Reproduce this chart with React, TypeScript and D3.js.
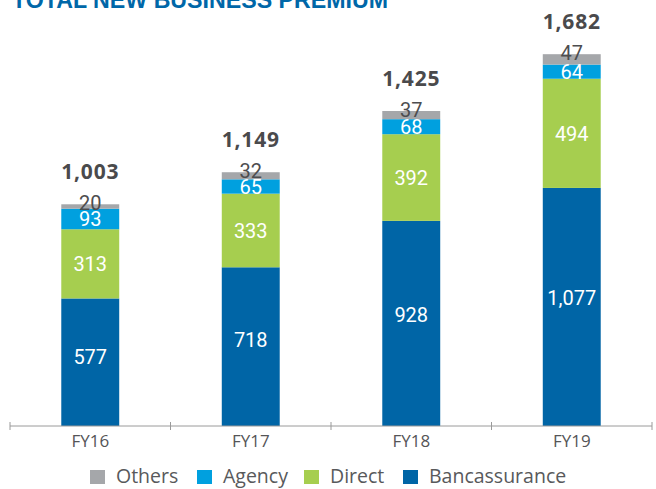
import React from "react";
import * as d3 from "d3";

const years = ["FY16", "FY17", "FY18", "FY19"];
const seriesNames = ["Bancassurance", "Direct", "Agency", "Others"];
const bancassurance = [577, 718, 928, 1077];
const direct = [313, 333, 392, 494];
const agency = [93, 65, 68, 64];
const others = [20, 32, 37, 47];
const totals = [1003, 1149, 1425, 1682];
const legendOrder = ["Others", "Agency", "Direct", "Bancassurance"];
const title = "TOTAL NEW BUSINESS PREMIUM";

const W = 656;
const H = 489;
const colors: Record<string, string> = {
  Bancassurance: "#0065A6",
  Direct: "#A6CE4F",
  Agency: "#00A0DF",
  Others: "#A5A7AA",
};
const labelColors: Record<string, string> = {
  Bancassurance: "#FFFFFF",
  Direct: "#FFFFFF",
  Agency: "#FFFFFF",
  Others: "#4D4D4F",
};
const legendX = [90, 197, 304, 403];

export default function App() {
  const x = d3.scaleBand<string>().domain(years).range([10, 652]).paddingInner(0.639).paddingOuter(0.3195);
  const y = d3.scaleLinear().domain([0, 1900]).range([426, 6]);
  const fmt = d3.format(",");

  const table = years.map((yr, i) => ({
    year: yr,
    Bancassurance: bancassurance[i],
    Direct: direct[i],
    Agency: agency[i],
    Others: others[i],
  }));
  const stacked = d3.stack<any>().keys(seriesNames)(table);
  const step = x.step();
  const tickXs = d3.range(years.length + 1).map((k) => 10 + k * step);

  return (
    <svg width={W} height={H} style={{ position: "absolute", left: 0, top: 0, background: "#fff" }}>
      <text x={12} y={7.5} fontFamily="'Liberation Sans', Arial, sans-serif" fontWeight="bold" fontSize={23} fill="#0067A8" textLength={376} lengthAdjust="spacingAndGlyphs">
        {title}
      </text>
      {stacked.map((layer) => (
        <g key={layer.key}>
          {layer.map((d, i) => (
            <rect
              key={i}
              x={x(years[i])!}
              y={y(d[1])}
              width={x.bandwidth()}
              height={y(d[0]) - y(d[1])}
              fill={colors[layer.key]}
            />
          ))}
        </g>
      ))}
      {stacked.map((layer) => (
        <g key={layer.key + "-lbl"}>
          {layer.map((d, i) => {
            const x0 = x(years[i])!;
            const yTop = y(d[1]);
            const h = y(d[0]) - yTop;
            let ly = yTop + h / 2;
            if (layer.key === "Bancassurance") ly = yTop + h * 0.46;
            if (layer.key === "Others") ly = yTop - 1;
            return (
              <text
                key={i}
                x={x0 + x.bandwidth() / 2}
                y={ly}
                dy="0.36em"
                textAnchor="middle"
                fontFamily="'Liberation Sans Narrow', 'Roboto', sans-serif"
                fontSize={20}
                fill={labelColors[layer.key]}
              >
                {fmt(d[1] - d[0])}
              </text>
            );
          })}
        </g>
      ))}
      {years.map((yr, i) => (
        <text
          key={yr}
          x={x(yr)! + x.bandwidth() / 2}
          y={y(totals[i]) - 25}
          textAnchor="middle"
          fontFamily="'Open Sans', sans-serif"
          fontWeight="bold"
          fontSize={21}
          letterSpacing={0.8}
          fill="#4A4A4C"
        >
          {fmt(totals[i])}
        </text>
      ))}
      <line x1={10} x2={652} y1={426} y2={426} stroke="#9A9A9A" strokeWidth={1} />
      {tickXs.map((tx, k) => (
        <line key={k} x1={tx} x2={tx} y1={422} y2={430} stroke="#9A9A9A" strokeWidth={1} />
      ))}
      {years.map((yr) => (
        <text key={yr} x={x(yr)! + x.bandwidth() / 2} y={447} textAnchor="middle" fontFamily="'Open Sans', sans-serif" fontSize={17} fill="#555557">
          {yr}
        </text>
      ))}
      {legendOrder.map((name, k) => (
        <g key={name}>
          <rect x={legendX[k]} y={470} width={15} height={14} fill={colors[name]} />
          <text x={legendX[k] + 26} y={483} fontFamily="'Open Sans', sans-serif" fontSize={19.5} fill="#58595B">
            {name}
          </text>
        </g>
      ))}
    </svg>
  );
}
